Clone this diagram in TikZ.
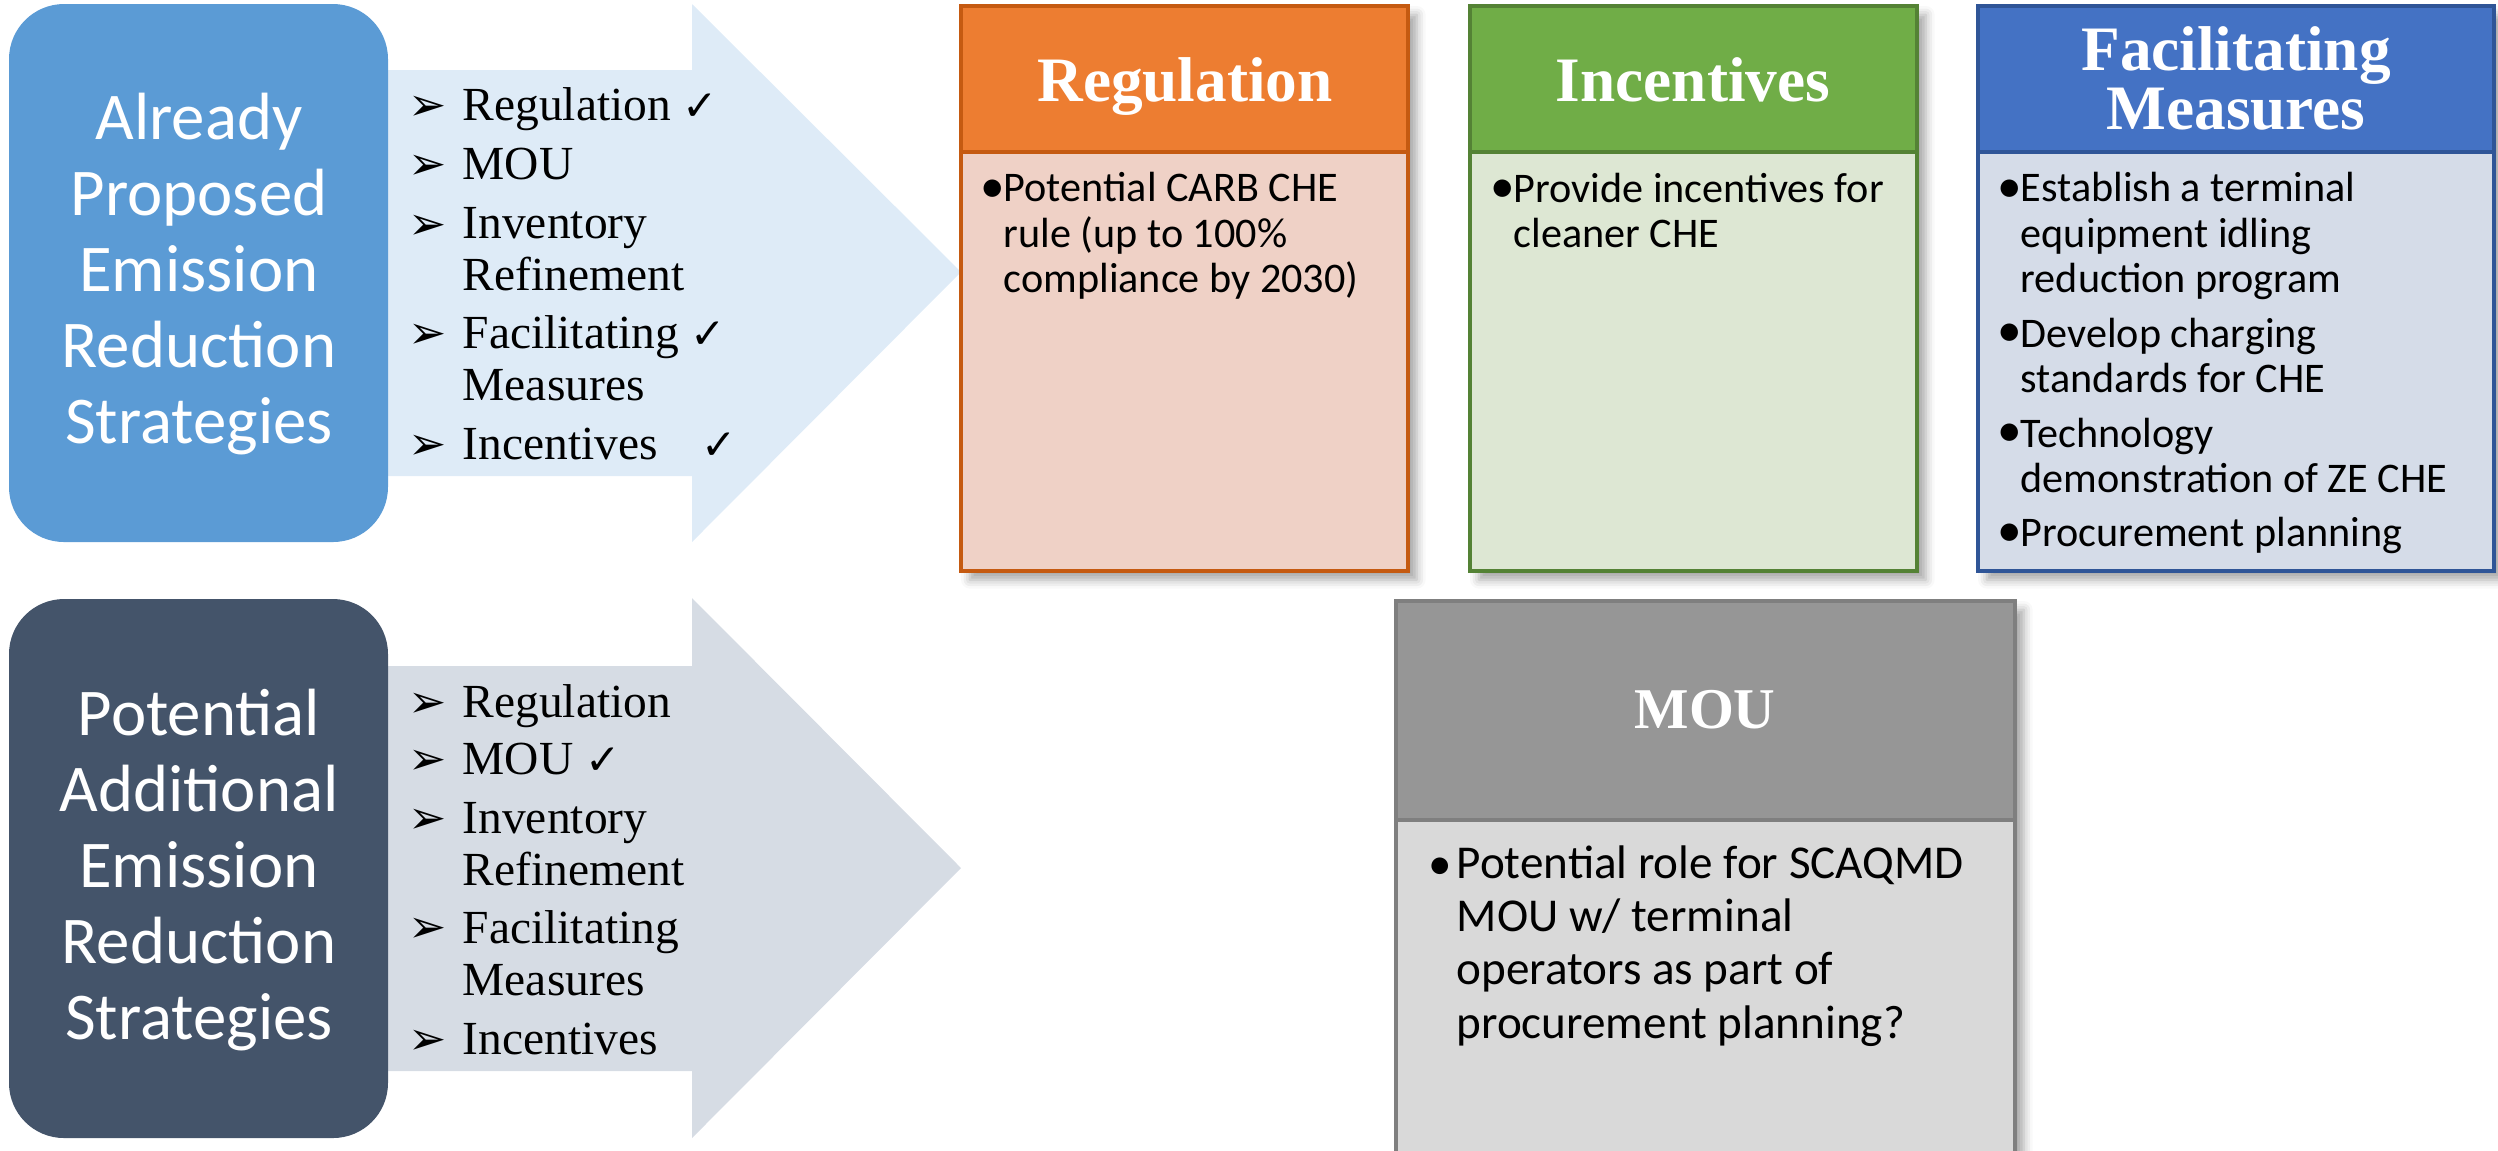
\documentclass[tikz,border=0pt]{standalone}
\usepackage{fontspec}
\setmainfont{Liberation Serif}
\newfontfamily\calibfont{Carlito}
\newfontfamily\symfont{DejaVu Sans}
\usepackage{tikz}
\usetikzlibrary{positioning,shadows,shadows.blur}

\definecolor{alreadyblue}{HTML}{5B9BD5}
\definecolor{potentialslate}{HTML}{44546A}
\definecolor{arrowlight}{HTML}{DEEBF7}
\definecolor{arrowgrey}{HTML}{D6DCE4}
\definecolor{reghead}{HTML}{ED7D31}
\definecolor{regline}{HTML}{C55A11}
\definecolor{regbody}{HTML}{EFD1C6}
\definecolor{inchead}{HTML}{70AD47}
\definecolor{incline}{HTML}{548235}
\definecolor{incbody}{HTML}{DDE7D3}
\definecolor{fachead}{HTML}{4472C4}
\definecolor{facline}{HTML}{2F5597}
\definecolor{facbody}{HTML}{D5DCE8}
\definecolor{mouhead}{HTML}{969696}
\definecolor{mouline}{HTML}{7F7F7F}
\definecolor{moubody}{HTML}{D9D9D9}

\tikzset{
  strategy/.style={text=white, align=center, inner sep=0pt,
    font=\calibfont\fontsize{19}{21.6}\selectfont},
  listmark/.style={anchor=base west, inner sep=0pt,
    font=\symfont\fontsize{13}{14}\selectfont},
  listitem/.style={anchor=base west, align=left, inner sep=0pt,
    font=\fontsize{13.5}{14.7}\selectfont},
  boxshadow/.style={blur shadow={shadow xshift=2.5pt, shadow yshift=-2.5pt,
    shadow blur radius=2.5pt, shadow opacity=35}},
  headtext/.style={anchor=base, text=white, align=center, inner sep=0pt,
    font=\bfseries\fontsize{18}{15.6}\selectfont},
  bodytext/.style={anchor=base west, align=left, inner sep=0pt,
    font=\calibfont\fontsize{12}{12.8}\selectfont},
  bodydot/.style={anchor=base west, inner sep=0pt,
    font=\calibfont\fontsize{14}{14}\selectfont},
  moutext/.style={anchor=base west, align=left, inner sep=0pt,
    font=\calibfont\fontsize{13.4}{15.1}\selectfont}
}
\newcommand{\tick}{{\symfont\fontsize{12}{12}\selectfont ✓}}

\begin{document}
\begin{tikzpicture}[x=0.01cm,y=-0.01cm]
    \useasboundingbox (0,0) rectangle (2498,1150);

    % arrows behind the two strategy boxes
    \fill[arrowlight] (380,70) -- (692,70) -- (692,4) -- (961,272)
        -- (692,542) -- (692,476) -- (380,476) -- cycle;
    \fill[arrowgrey] (380,666) -- (692,666) -- (692,598) -- (961,868)
        -- (692,1138) -- (692,1071) -- (380,1071) -- cycle;

    % strategy boxes
    \fill[alreadyblue, rounded corners=0.55cm] (9,4) rectangle (388,542);
    \fill[potentialslate, rounded corners=0.55cm] (9,599) rectangle (388,1138);
    \node[strategy] (already) at (199,274)
        {Already\\Proposed\\Emission\\Reduction\\Strategies};
    \node[strategy] (potential) at (199,870)
        {Potential\\Additional\\Emission\\Reduction\\Strategies};

    % list on the upper arrow (base = last line)
    \node[listmark] (amark1) at (408,120) {➢};
    \node[listitem] (aitem1) at (462,120) {Regulation \tick};
    \node[listmark] (amark2) at (408,179) {➢};
    \node[listitem] (aitem2) at (462,179) {MOU};
    \node[listmark] (amark3) at (408,239) {➢};
    \node[listitem] (aitem3) at (462,290) {Inventory\\Refinement};
    \node[listmark] (amark4) at (408,348) {➢};
    \node[listitem] (aitem4) at (462,400) {Facilitating \tick\\Measures};
    \node[listmark] (amark5) at (408,459) {➢};
    \node[listitem] (aitem5) at (462,459) {Incentives\hspace{9pt} \tick};

    % list on the lower arrow
    \node[listmark] (pmark1) at (408,717) {➢};
    \node[listitem] (pitem1) at (462,717) {Regulation};
    \node[listmark] (pmark2) at (408,774) {➢};
    \node[listitem] (pitem2) at (462,774) {MOU \tick};
    \node[listmark] (pmark3) at (408,833) {➢};
    \node[listitem] (pitem3) at (462,885) {Inventory\\Refinement};
    \node[listmark] (pmark4) at (408,942) {➢};
    \node[listitem] (pitem4) at (462,995) {Facilitating\\Measures};
    \node[listmark] (pmark5) at (408,1054) {➢};
    \node[listitem] (pitem5) at (462,1054) {Incentives};

    % regulation
    \filldraw[regbody, draw=regline, line width=0.9pt, boxshadow] (961,6) rectangle (1408,571);
    \filldraw[reghead, draw=regline, line width=0.9pt] (961,6) rectangle (1408,152);
    \node[headtext] (reg) at (1185,101) {Regulation};
    \node[bodydot] (regdot) at (980,202) {•};
    \node[bodytext] (regtxt) at (1003,292) {Potential CARB CHE\\rule (up to 100\%\\compliance by 2030)};

    % incentives
    \filldraw[incbody, draw=incline, line width=0.9pt, boxshadow] (1470,6) rectangle (1917,571);
    \filldraw[inchead, draw=incline, line width=0.9pt] (1470,6) rectangle (1917,152);
    \node[headtext] (inc) at (1693,101) {Incentives};
    \node[bodydot] (incdot) at (1490,202) {•};
    \node[bodytext] (inctxt) at (1513,247) {Provide incentives for\\cleaner CHE};

    % facilitating measures
    \filldraw[facbody, draw=facline, line width=0.9pt, boxshadow] (1978,6) rectangle (2494,571);
    \filldraw[fachead, draw=facline, line width=0.9pt] (1978,6) rectangle (2494,152);
    \node[headtext] (fac) at (2236,129) {Facilitating\\Measures};
    \node[bodydot] (facdot1) at (1997,202) {•};
    \node[bodytext] (factxt1) at (2020,292) {Establish a terminal\\equipment idling\\reduction program};
    \node[bodydot] (facdot2) at (1997,346) {•};
    \node[bodytext] (factxt2) at (2020,392) {Develop charging\\standards for CHE};
    \node[bodydot] (facdot3) at (1997,446) {•};
    \node[bodytext] (factxt3) at (2020,492) {Technology\\demonstration of ZE CHE};
    \node[bodydot] (facdot4) at (1997,546) {•};
    \node[bodytext] (factxt4) at (2020,546) {Procurement planning};

    % mou
    \filldraw[moubody, draw=mouline, line width=0.9pt, boxshadow] (1396,601) rectangle (2015,1160);
    \filldraw[mouhead, draw=mouline, line width=0.9pt] (1396,601) rectangle (2015,820);
    \node[headtext, font=\bfseries\fontsize{16.4}{18}\selectfont] (mou) at (1705,728) {MOU};
    \node[moutext] (moudot) at (1428,879) {•};
    \node[moutext] (moutxt) at (1456,1038) {Potential role for SCAQMD\\MOU w/ terminal\\operators as part of\\procurement planning?};
\end{tikzpicture}
\end{document}
